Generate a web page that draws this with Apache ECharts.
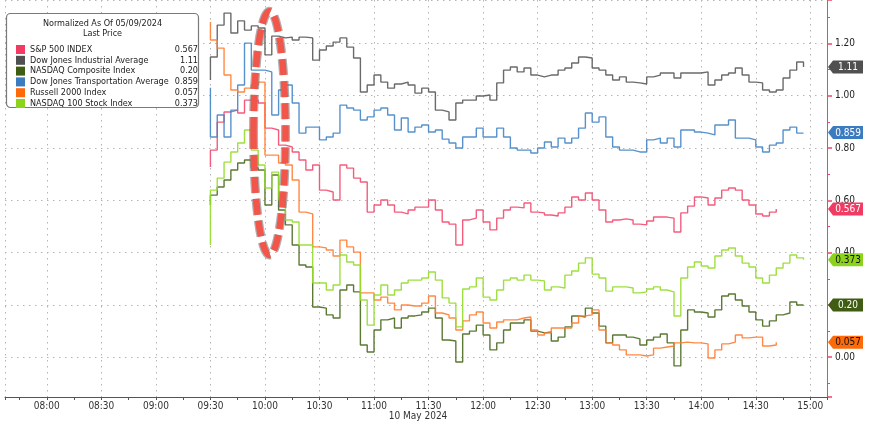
<!DOCTYPE html>
<html><head><meta charset="utf-8">
<script src="https://cdn.jsdelivr.net/npm/echarts@6/dist/echarts.min.js"></script>
<style>html,body{margin:0;padding:0;background:#fff}#c{width:869px;height:424px}</style>
</head><body><div id="c"></div><script>
const FONT = '"DejaVu Sans Condensed","DejaVu Sans","Liberation Sans Narrow",sans-serif';

const seriesNames = ['S&P 500 INDEX','Dow Jones Industrial Average','NASDAQ Composite Index','Dow Jones Transportation Average','Russell 2000 Index','NASDAQ 100 Stock Index'];
const lineColors = ['#f24a6e','#5a5a5a','#4a6a1e','#4585c6','#ff7c30','#94dc2a'];
const tagColors  = ['#f23b63','#505050','#3e5d12','#3b7cc0','#ff6a08','#8cd41c'];
const tagTextColors = ['#ffffff','#ffffff','#ffffff','#ffffff','#111111','#111111'];
const lastLabels = ['0.567','1.11','0.20','0.859','0.057','0.373'];

const legendTitle = 'Normalized As Of 05/09/2024';
const legendSubtitle = 'Last Price';
const dateLabel = '10 May 2024';

// bars: start 09:30, one bar each 3.75 minutes
const barStepMinutes = 3.75;

const openValues = [0.727, 1.060, 0.582, 1.030, 1.282, 0.429];

const spxClose = [
 0.792,0.899,0.938,0.945,0.934,0.983,0.983,0.972,0.876,0.869,
 0.811,0.804,0.785,0.754,0.716,0.735,0.639,0.632,0.601,0.735,
 0.723,0.685,0.670,0.555,0.582,0.601,0.582,0.555,0.548,0.563,
 0.574,0.574,0.601,0.563,0.517,0.509,0.429,0.525,0.532,0.563,
 0.517,0.487,0.532,0.563,0.574,0.571,0.590,0.555,0.552,0.544,
 0.540,0.552,0.574,0.613,0.601,0.628,0.601,0.563,0.517,0.525,
 0.529,0.525,0.509,0.506,0.521,0.536,0.536,0.532,0.479,0.552,
 0.578,0.613,0.609,0.582,0.609,0.639,0.647,0.639,0.601,0.582,
 0.548,0.540,0.555,0.567];

const induClose = [
 1.148,1.270,1.316,1.240,1.286,1.251,1.267,1.259,1.156,1.228,
 1.221,1.224,1.213,1.224,1.221,1.136,1.175,1.190,1.205,1.221,
 1.186,1.144,1.014,1.041,1.079,1.052,1.029,1.045,1.052,1.041,
 1.010,1.029,1.014,0.945,0.938,0.907,0.972,0.983,0.983,0.999,
 1.003,0.983,1.049,1.098,1.110,1.091,1.106,1.079,1.072,1.079,
 1.079,1.098,1.106,1.125,1.148,1.144,1.106,1.098,1.079,1.060,
 1.072,1.052,1.049,1.045,1.072,1.079,1.087,1.087,1.068,1.087,
 1.087,1.087,1.091,1.041,1.060,1.079,1.087,1.106,1.079,1.052,
 1.049,1.022,1.014,1.022,1.068,1.098,1.129,1.110];

const ccmpClose = [
 0.620,0.651,0.678,0.716,0.743,0.754,0.724,0.716,0.582,0.697,
 0.563,0.506,0.429,0.353,0.345,0.192,0.188,0.162,0.150,0.257,
 0.276,0.250,0.047,0.020,0.104,0.143,0.150,0.112,0.150,0.158,
 0.162,0.173,0.188,0.150,0.066,0.062,-0.018,0.089,0.100,0.123,
 0.085,0.028,0.055,0.104,0.131,0.131,0.143,0.100,0.093,0.097,
 0.062,0.077,0.116,0.158,0.154,0.188,0.169,0.119,0.055,0.085,
 0.085,0.077,0.070,0.047,0.066,0.077,0.089,0.055,-0.033,0.104,
 0.181,0.173,0.169,0.154,0.181,0.234,0.242,0.219,0.196,0.173,
 0.143,0.119,0.139,0.162,0.169,0.211,0.200,0.200];

const tranClose = [
 0.842,0.926,0.842,0.945,1.041,1.201,1.098,1.098,1.091,0.926,
 1.022,1.041,0.972,0.857,0.880,0.880,0.831,0.842,0.857,0.964,
 0.953,0.945,0.907,0.919,0.945,0.953,0.926,0.869,0.915,0.861,
 0.880,0.888,0.861,0.869,0.834,0.819,0.800,0.842,0.842,0.876,
 0.842,0.842,0.876,0.842,0.800,0.792,0.792,0.781,0.800,0.823,
 0.804,0.838,0.819,0.838,0.876,0.934,0.899,0.919,0.842,0.804,
 0.792,0.792,0.785,0.785,0.831,0.838,0.819,0.838,0.804,0.869,
 0.869,0.861,0.857,0.850,0.888,0.888,0.907,0.838,0.838,0.831,
 0.804,0.785,0.811,0.819,0.869,0.880,0.857,0.859];

const rtyClose = [
 1.213,1.182,1.079,1.022,1.014,1.029,1.041,1.052,0.773,0.773,
 0.743,0.735,0.678,0.555,0.548,0.422,0.418,0.410,0.387,0.448,
 0.422,0.402,0.246,0.246,0.219,0.230,0.207,0.181,0.200,0.196,
 0.196,0.207,0.234,0.169,0.162,0.150,0.104,0.139,0.162,0.173,
 0.131,0.112,0.135,0.143,0.143,0.150,0.154,0.104,0.085,0.093,
 0.112,0.112,0.112,0.131,0.158,0.162,0.181,0.104,0.055,0.047,
 0.028,0.009,0.009,0.005,0.009,0.035,0.039,0.043,0.055,0.058,
 0.055,0.055,0.051,-0.003,0.028,0.051,0.058,0.085,0.074,0.077,
 0.077,0.043,0.047,0.057];

const ndxClose = [
 0.639,0.685,0.746,0.785,0.819,0.869,0.792,0.735,0.647,0.708,
 0.601,0.525,0.517,0.429,0.429,0.284,0.284,0.257,0.276,0.391,
 0.364,0.353,0.219,0.123,0.238,0.276,0.238,0.257,0.284,0.295,
 0.295,0.303,0.326,0.295,0.227,0.207,0.116,0.261,0.269,0.303,
 0.230,0.219,0.257,0.295,0.303,0.295,0.314,0.295,0.292,0.257,
 0.269,0.265,0.314,0.330,0.360,0.380,0.318,0.303,0.253,0.269,
 0.269,0.265,0.246,0.250,0.261,0.269,0.257,0.250,0.158,0.303,
 0.345,0.364,0.349,0.341,0.387,0.410,0.418,0.387,0.360,0.345,
 0.303,0.284,0.314,0.341,0.360,0.391,0.380,0.373];

const closeLists = [spxClose, induClose, ccmpClose, tranClose, rtyClose, ndxClose];

(function () {
const t0 = new Date(2024, 4, 10, 9, 30).getTime();
const barTime = i => t0 + i * barStepMinutes * 60000;
const axisMin = new Date(2024, 4, 10, 7, 37, 0).getTime();
const axisMax = new Date(2024, 4, 10, 15, 9, 10).getTime();

const chart = echarts.init(document.getElementById('c'), null, {renderer: 'canvas'});

const tagPath = 'path://M0,6.5 L5,0 L35,0 L35,13 L5,13 Z';

const series = seriesNames.map((name, k) => {
  const cl = closeLists[k];
  const data = [[barTime(0), openValues[k]]].concat(cl.map((v, i) => [barTime(i), v]));
  const last = cl.length - 1;
  return {
    name, type: 'line', step: 'end', data,
    showSymbol: false, symbol: 'none', silent: true,
    xAxisIndex: 0, yAxisIndex: 0,
    lineStyle: {color: lineColors[k], width: 1.4, opacity: 0.9},
    itemStyle: {color: tagColors[k]},
    z: 3,
    markPoint: {
      silent: true,
      symbol: tagPath,
      symbolSize: [35, 13],
      itemStyle: {color: tagColors[k]},
      label: {show: true, position: 'inside', offset: [2.5, 0.5], formatter: () => lastLabels[k],
              color: tagTextColors[k], fontSize: 10, fontFamily: FONT},
      data: [{coord: [barTime(last), cl[last]], x: 845.5}],
      z: 10
    }
  };
});

const option = {
  animation: false,
  backgroundColor: '#ffffff',
  grid: {left: 5, right: 42, top: 0, bottom: 27, containLabel: false},
  xAxis: [{
    type: 'time', min: axisMin, max: axisMax,
    minInterval: 31 * 60000, maxInterval: 31 * 60000,
    axisLine: {show: true, onZero: false, lineStyle: {color: '#555', width: 1}},
    axisTick: {show: false},
    axisLabel: {formatter: '{HH}:{mm}', color: '#333', fontSize: 10, fontFamily: FONT, margin: 4,
                showMinLabel: false, showMaxLabel: false},
    splitLine: {show: true, lineStyle: {color: '#b5b5b5', type: [1.5, 4.5], width: 1}}
  }, {
    type: 'time', min: axisMin, max: axisMax, position: 'bottom',
    minInterval: 16 * 60000, maxInterval: 16 * 60000,
    axisLine: {show: false, onZero: false},
    axisTick: {show: true, length: 3, lineStyle: {color: '#555'}},
    axisLabel: {show: false},
    splitLine: {show: false}
  }],
  yAxis: {
    type: 'value', position: 'right', min: -0.152, max: 1.366, splitNumber: 8,
    axisLine: {show: true, onZero: false, lineStyle: {color: '#f0446a', width: 1}},
    axisTick: {show: true, length: 5, lineStyle: {color: '#f0446a', width: 1.5}},
    minorTick: {show: true, splitNumber: 2, length: 3, lineStyle: {color: '#f0446a'}},
    axisLabel: {color: '#222', fontSize: 10, fontFamily: FONT, margin: 8,
                formatter: v => v.toFixed(2), showMinLabel: false, showMaxLabel: false},
    splitLine: {show: true, lineStyle: {color: '#b5b5b5', type: [1.5, 4.5], width: 1}}
  },
  legend: {
    left: 11, top: 40, orient: 'vertical', icon: 'rect',
    itemWidth: 9, itemHeight: 9, itemGap: 1.8, selectedMode: false,
    data: seriesNames,
    formatter: n => '{n|' + n + '}{v|' + lastLabels[seriesNames.indexOf(n)] + '}',
    textStyle: {
      fontFamily: FONT, fontSize: 9, color: '#222',
      rich: {
        n: {width: 136, fontSize: 9, lineHeight: 9, fontFamily: FONT, color: '#222'},
        v: {width: 32, align: 'right', fontSize: 9, lineHeight: 9, fontFamily: FONT, color: '#222'}
      }
    },
    z: 20
  },
  series
};
chart.setOption(option);

// annotation ellipse placed through the chart's own scales
const ctr = chart.convertToPixel({xAxisIndex: 0, yAxisIndex: 0}, [new Date(2024, 4, 10, 10, 2, 30).getTime(), 0.857]);
const topPt = chart.convertToPixel({xAxisIndex: 0, yAxisIndex: 0}, [new Date(2024, 4, 10, 10, 2, 30).getTime(), 1.323]);
const ry = ctr[1] - topPt[1];
const dash = [16, 6];

chart.setOption({
  graphic: [
    {type: 'rect', shape: {x: 6.5, y: 13.5, width: 192, height: 94, r: 4},
     style: {fill: '#fff', stroke: '#7a7a7a', lineWidth: 1.2}, z: 15, silent: true},
    {type: 'text', x: 102.5, y: 24, style: {text: legendTitle, fill: '#222', font: '9px ' + FONT, textAlign: 'center', textVerticalAlign: 'middle'}, z: 25, silent: true},
    {type: 'text', x: 102.5, y: 34, style: {text: legendSubtitle, fill: '#222', font: '9px ' + FONT, textAlign: 'center', textVerticalAlign: 'middle'}, z: 25, silent: true},
    {type: 'text', x: 418, y: 416, style: {text: dateLabel, fill: '#333', font: '10px ' + FONT, textAlign: 'center', textVerticalAlign: 'middle'}, z: 25, silent: true},
    {type: 'ellipse', shape: {cx: ctr[0], cy: ctr[1], rx: 16, ry: ry},
     style: {fill: 'none', stroke: 'rgba(110,110,110,0.55)', lineWidth: 9, lineDash: dash}, z: 30, silent: true},
    {type: 'ellipse', shape: {cx: ctr[0], cy: ctr[1], rx: 16, ry: ry},
     style: {fill: 'none', stroke: '#f2564a', lineWidth: 6.5, lineDash: dash}, z: 31, silent: true}
  ]
});
})();
</script></body></html>
